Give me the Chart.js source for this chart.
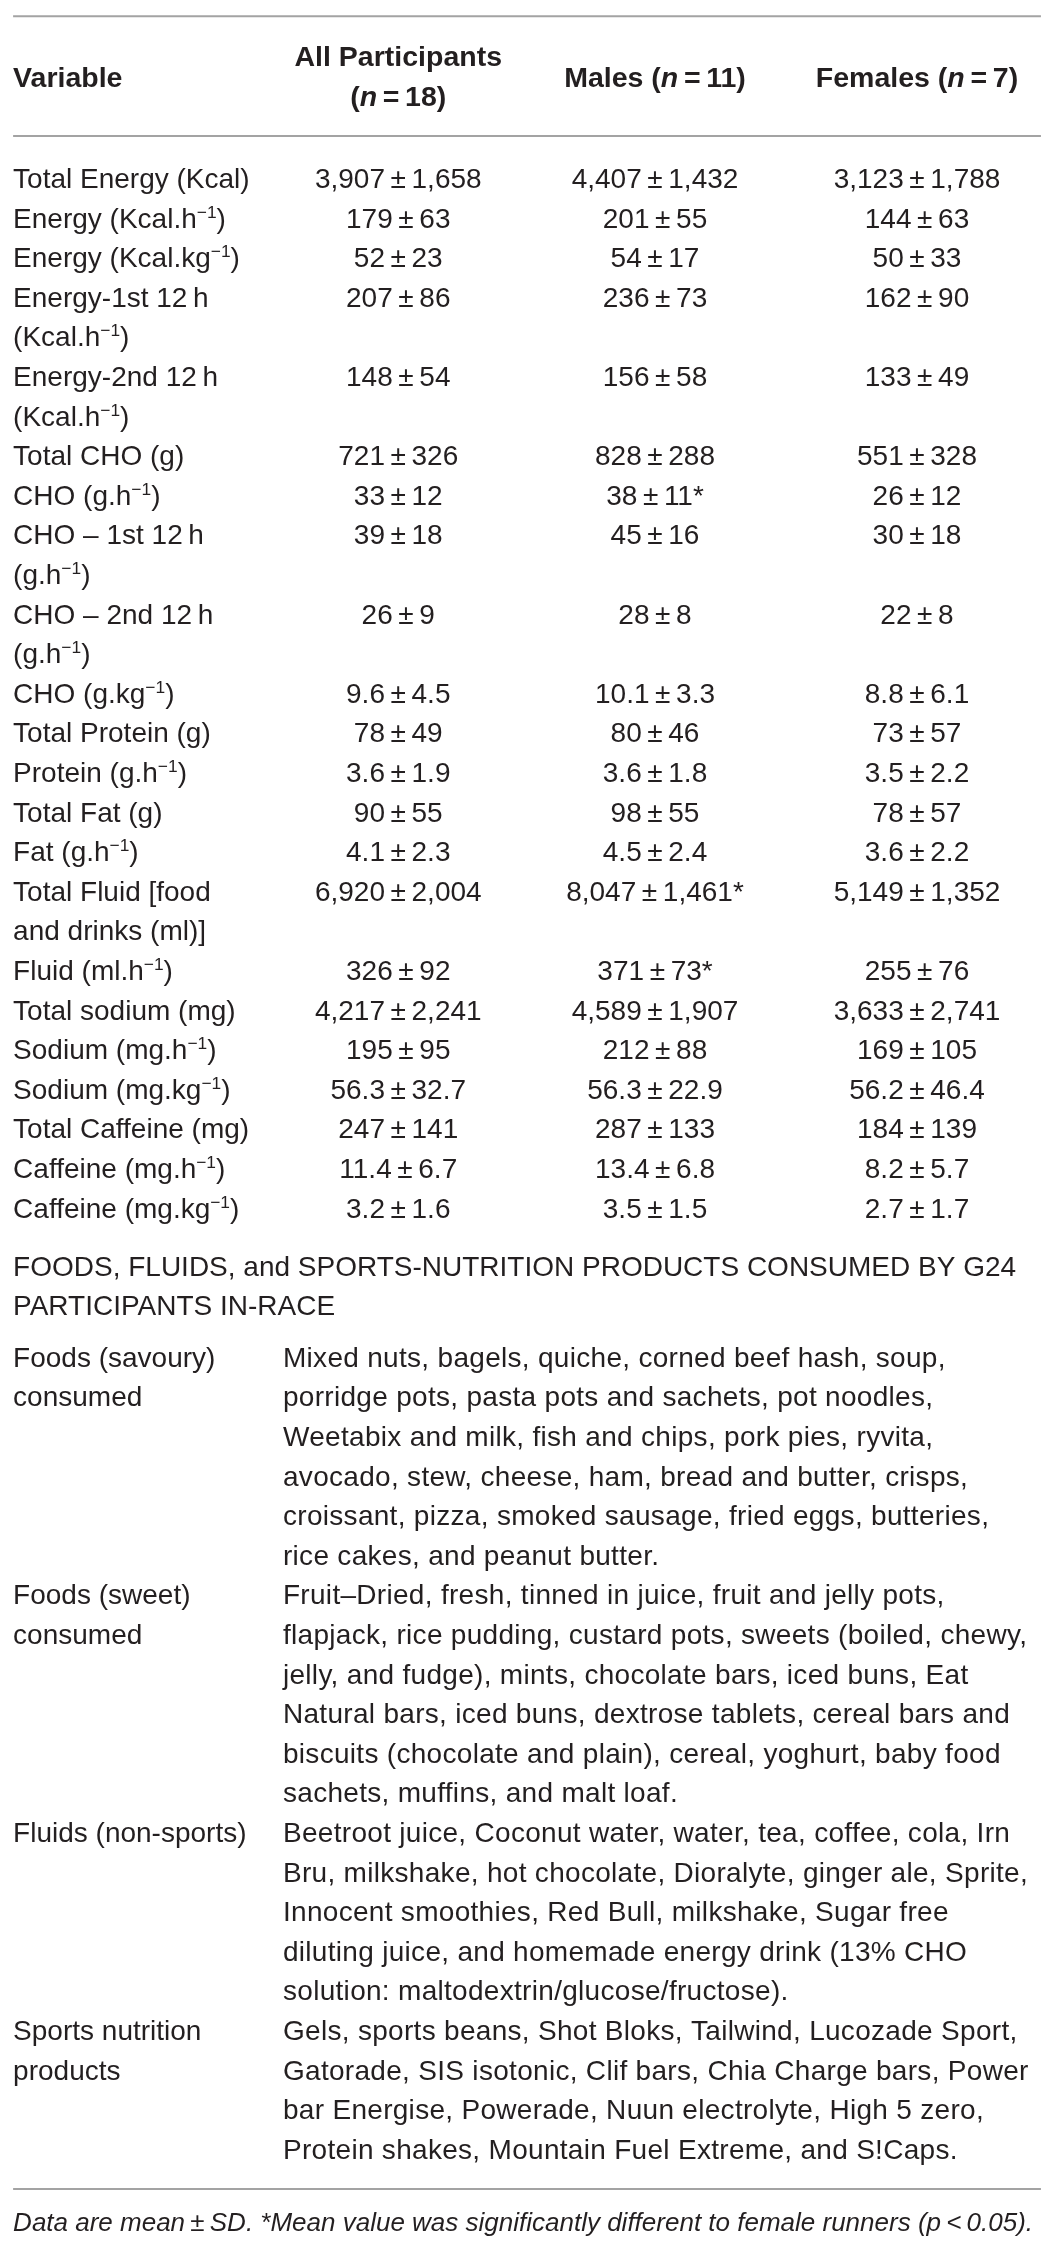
<!DOCTYPE html>
<html>
<head>
<meta charset="utf-8">
<title>G24 in-race nutrition</title>
<script src="https://cdn.jsdelivr.net/npm/chart.js@4.4.0/dist/chart.umd.min.js"></script>
<style>
  html, body { margin: 0; padding: 0; background: #ffffff; }
  #wrap { width: 1048px; height: 2250px; position: relative; }
</style>
</head>
<body>
<div id="wrap"><canvas id="chart"></canvas></div>
<script>
// ---------------- DATA ----------------
const columnHeaders = ["Variable", "All Participants\n(~{n}\u2009=\u200918)", "Males (~{n}\u2009=\u200911)", "Females (~{n}\u2009=\u20097)"];

const variables = [
  "Total Energy (Kcal)",
  "Energy (Kcal.h^{\u22121})",
  "Energy (Kcal.kg^{\u22121})",
  "Energy-1st 12\u2009h\n(Kcal.h^{\u22121})",
  "Energy-2nd 12\u2009h\n(Kcal.h^{\u22121})",
  "Total CHO (g)",
  "CHO (g.h^{\u22121})",
  "CHO \u2013 1st 12\u2009h\n(g.h^{\u22121})",
  "CHO \u2013 2nd 12\u2009h\n(g.h^{\u22121})",
  "CHO (g.kg^{\u22121})",
  "Total Protein (g)",
  "Protein (g.h^{\u22121})",
  "Total Fat (g)",
  "Fat (g.h^{\u22121})",
  "Total Fluid [food\nand drinks (ml)]",
  "Fluid (ml.h^{\u22121})",
  "Total sodium (mg)",
  "Sodium (mg.h^{\u22121})",
  "Sodium (mg.kg^{\u22121})",
  "Total Caffeine (mg)",
  "Caffeine (mg.h^{\u22121})",
  "Caffeine (mg.kg^{\u22121})"
];

const allMean    = [3907, 179, 52, 207, 148, 721, 33, 39, 26, 9.6, 78, 3.6, 90, 4.1, 6920, 326, 4217, 195, 56.3, 247, 11.4, 3.2];
const allSD      = [1658, 63, 23, 86, 54, 326, 12, 18, 9, 4.5, 49, 1.9, 55, 2.3, 2004, 92, 2241, 95, 32.7, 141, 6.7, 1.6];
const maleMean   = [4407, 201, 54, 236, 156, 828, 38, 45, 28, 10.1, 80, 3.6, 98, 4.5, 8047, 371, 4589, 212, 56.3, 287, 13.4, 3.5];
const maleSD     = [1432, 55, 17, 73, 58, 288, 11, 16, 8, 3.3, 46, 1.8, 55, 2.4, 1461, 73, 1907, 88, 22.9, 133, 6.8, 1.5];
const femaleMean = [3123, 144, 50, 162, 133, 551, 26, 30, 22, 8.8, 73, 3.5, 78, 3.6, 5149, 255, 3633, 169, 56.2, 184, 8.2, 2.7];
const femaleSD   = [1788, 63, 33, 90, 49, 328, 12, 18, 8, 6.1, 57, 2.2, 57, 2.2, 1352, 76, 2741, 105, 46.4, 139, 5.7, 1.7];
const decimals   = [0, 0, 0, 0, 0, 0, 0, 0, 0, 1, 0, 1, 0, 1, 0, 0, 0, 0, 1, 0, 1, 1];
const maleSignificant = [false, false, false, false, false, false, true, false, false, false, false, false, false, false, true, true, false, false, false, false, false, false];

const sectionTitle = [
  "FOODS, FLUIDS, and SPORTS-NUTRITION PRODUCTS CONSUMED BY G24",
  "PARTICIPANTS IN-RACE"
];

const foodCategories = ["Foods (savoury)\nconsumed", "Foods (sweet)\nconsumed", "Fluids (non-sports)", "Sports nutrition\nproducts"];

const foodItems = [
  [
    "Mixed nuts, bagels, quiche, corned beef hash, soup,",
    "porridge pots, pasta pots and sachets, pot noodles,",
    "Weetabix and milk, fish and chips, pork pies, ryvita,",
    "avocado, stew, cheese, ham, bread and butter, crisps,",
    "croissant, pizza, smoked sausage, fried eggs, butteries,",
    "rice cakes, and peanut butter."
  ],
  [
    "Fruit\u2013Dried, fresh, tinned in juice, fruit and jelly pots,",
    "flapjack, rice pudding, custard pots, sweets (boiled, chewy,",
    "jelly, and fudge), mints, chocolate bars, iced buns, Eat",
    "Natural bars, iced buns, dextrose tablets, cereal bars and",
    "biscuits (chocolate and plain), cereal, yoghurt, baby food",
    "sachets, muffins, and malt loaf."
  ],
  [
    "Beetroot juice, Coconut water, water, tea, coffee, cola, Irn",
    "Bru, milkshake, hot chocolate, Dioralyte, ginger ale, Sprite,",
    "Innocent smoothies, Red Bull, milkshake, Sugar free",
    "diluting juice, and homemade energy drink (13% CHO",
    "solution: maltodextrin/glucose/fructose)."
  ],
  [
    "Gels, sports beans, Shot Bloks, Tailwind, Lucozade Sport,",
    "Gatorade, SIS isotonic, Clif bars, Chia Charge bars, Power",
    "bar Energise, Powerade, Nuun electrolyte, High 5 zero,",
    "Protein shakes, Mountain Fuel Extreme, and S!Caps."
  ]
];

const footnote = "Data are mean\u2009\u00b1\u2009SD. *Mean value was significantly different to female runners (~{p}\u2009<\u20090.05).";

// ---------------- LAYOUT / STYLE ----------------
const FAMILY = '"Liberation Sans", Arial, Helvetica, sans-serif';
const TEXT_COLOR = '#231f20';
const RULE_COLOR = '#a3a3a3';
const W = 1048, H = 2250;
const pitchPx = 39.6;          // one text line
const firstBaselinePx = 188;   // baseline of first body line
const layout = {
  headerTwoLines: [-3.08, -2.05],
  headerOneLine: -2.55,
  rules: [-4.34, -1.31, 50.53],
  sectionGap: 1.47,
  foodsGap: 1.30,
  footnoteLine: 51.6,
  colLabel: -0.45, colAll: 1.02, colMales: 2.0, colFemales: 3.0, colItems: 0.58, ruleEnd: 3.473
};
const styles = {
  header: { size: 28.5, weight: 'bold', italic: false, spacing: '0px' },
  body:   { size: 28, weight: 'normal', italic: false, spacing: '0px' },
  items:  { size: 28, weight: 'normal', italic: false, spacing: '0.3px' },
  foot:   { size: 26, weight: 'normal', italic: true, spacing: '0px' }
};

function fmt(v, d) {
  return v.toLocaleString('en-US', { minimumFractionDigits: d, maximumFractionDigits: d });
}
function meanSD(m, s, d, flag) {
  return fmt(m, d) + '\u2009\u00b1\u2009' + fmt(s, d) + (flag ? '*' : '');
}

// Build text datasets (one point per text line, positioned in table line units)
const textSets = [];
function addCell(set, text, x, y) {
  text.split('\n').forEach((ln, k) => {
    set.data.push({ x: x, y: y + k });
    set.texts.push(ln);
  });
}
function newSet(label, align, style) {
  const s = { label, type: 'scatter', data: [], texts: [], align, textStyle: style, pointRadius: 0, pointHoverRadius: 0, showLine: false };
  textSets.push(s);
  return s;
}

const headerSet = newSet('headers', 'center', styles.header);
const headerLeftSet = newSet('headerLeft', 'left', styles.header);
addCell(headerLeftSet, columnHeaders[0], layout.colLabel, layout.headerOneLine);
addCell(headerSet, columnHeaders[1], layout.colAll, layout.headerTwoLines[0]);
addCell(headerSet, columnHeaders[2], layout.colMales, layout.headerOneLine);
addCell(headerSet, columnHeaders[3], layout.colFemales, layout.headerOneLine);

const varSet = newSet('variables', 'left', styles.body);
const allSet = newSet('All participants', 'center', styles.body);
const maleSet = newSet('Males', 'center', styles.body);
const femaleSet = newSet('Females', 'center', styles.body);
let line = 0;
variables.forEach((v, i) => {
  addCell(varSet, v, layout.colLabel, line);
  addCell(allSet, meanSD(allMean[i], allSD[i], decimals[i], false), layout.colAll, line);
  addCell(maleSet, meanSD(maleMean[i], maleSD[i], decimals[i], maleSignificant[i]), layout.colMales, line);
  addCell(femaleSet, meanSD(femaleMean[i], femaleSD[i], decimals[i], false), layout.colFemales, line);
  line += v.split('\n').length;
});

const sectionSet = newSet('section', 'left', styles.body);
let sLine = (line - 1) + layout.sectionGap;
addCell(sectionSet, sectionTitle.join('\n'), layout.colLabel, sLine);
let fLine = sLine + sectionTitle.length - 1 + layout.foodsGap;

const catSet = newSet('categories', 'left', styles.body);
const itemSet = newSet('items', 'left', styles.items);
foodCategories.forEach((c, i) => {
  addCell(catSet, c, layout.colLabel, fLine);
  addCell(itemSet, foodItems[i].join('\n'), layout.colItems, fLine);
  fLine += foodItems[i].length;
});

const footSet = newSet('footnote', 'left', styles.foot);
addCell(footSet, footnote, layout.colLabel, layout.footnoteLine);

const ruleSets = layout.rules.map((r, i) => ({
  label: 'rule' + i, type: 'line', data: [{ x: layout.colLabel, y: r }, { x: layout.ruleEnd, y: r }],
  borderColor: RULE_COLOR, borderWidth: 2, pointRadius: 0, pointHoverRadius: 0, fill: false, tension: 0
}));

// ---------------- RICH TEXT ----------------
function parseRich(str) {
  const segs = [];
  const re = /\^\{([^}]*)\}|~\{([^}]*)\}|([^^~]+)/g;
  let m;
  while ((m = re.exec(str))) {
    if (m[1] !== undefined) segs.push({ t: m[1], sup: true });
    else if (m[2] !== undefined) segs.push({ t: m[2], it: true });
    else segs.push({ t: m[3] });
  }
  return segs;
}
function drawRich(ctx, str, x, y, align, st) {
  const segs = parseRich(str);
  const fontFor = s => ((st.italic || s.it) ? 'italic ' : '') + st.weight + ' ' + (s.sup ? st.size * 0.62 : st.size) + 'px ' + FAMILY;
  if ('letterSpacing' in ctx) ctx.letterSpacing = st.spacing || '0px';
  let total = 0;
  segs.forEach(s => { ctx.font = fontFor(s); s.w = ctx.measureText(s.t).width; total += s.w; });
  let cx = align === 'center' ? x - total / 2 : x;
  segs.forEach(s => {
    ctx.font = fontFor(s);
    ctx.fillText(s.t, cx, s.sup ? y - st.size * 0.36 : y);
    cx += s.w;
  });
}

const tableTextPlugin = {
  id: 'tableText',
  afterDatasetsDraw(chart) {
    const ctx = chart.ctx;
    ctx.save();
    ctx.fillStyle = TEXT_COLOR;
    ctx.textAlign = 'left';
    ctx.textBaseline = 'alphabetic';
    chart.data.datasets.forEach((ds, i) => {
      if (!ds.texts) return;
      const meta = chart.getDatasetMeta(i);
      meta.data.forEach((el, j) => {
        drawRich(ctx, ds.texts[j], el.x, el.y, ds.align, ds.textStyle);
      });
    });
    ctx.restore();
  }
};

new Chart(document.getElementById('chart'), {
  type: 'scatter',
  data: { datasets: [...ruleSets, ...textSets] },
  options: {
    responsive: true,
    maintainAspectRatio: false,
    animation: false,
    events: [],
    layout: { padding: 0 },
    plugins: { legend: { display: false }, tooltip: { enabled: false } },
    scales: {
      x: { type: 'linear', min: -0.5, max: 3.5, display: false },
      y: { type: 'linear', reverse: true, min: -firstBaselinePx / pitchPx, max: (H - firstBaselinePx) / pitchPx, display: false }
    }
  },
  plugins: [tableTextPlugin]
});
</script>
</body>
</html>
